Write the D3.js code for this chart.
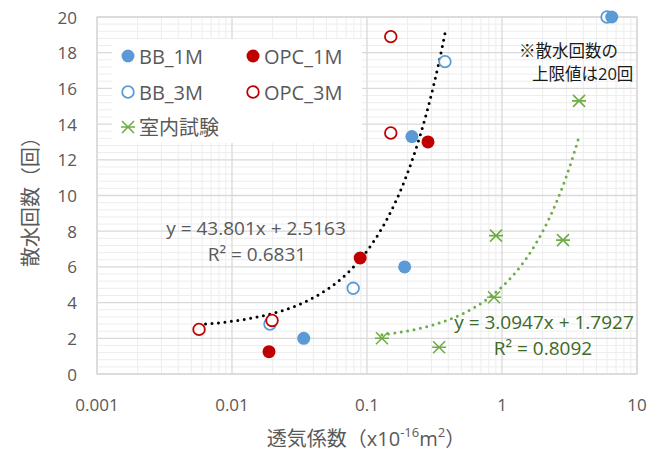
<!DOCTYPE html>
<html>
<head>
<meta charset="utf-8">
<script src="https://cdn.jsdelivr.net/npm/d3@7"></script>
<style>
  body { margin: 0; background: #fff; }
  svg { font-family: "Open Sans", "Noto Sans CJK JP", sans-serif; }
</style>
</head>
<body>
<svg id="chart" width="660" height="450"></svg>
<script>
// data
let bb1mX = [0.034, 0.19, 0.215, 6.5];
let bb1mY = [2.0, 6.0, 13.3, 20];
let bb3mX = [0.0191, 0.079, 0.378, 6.0];
let bb3mY = [2.8, 4.8, 17.5, 20];
let opc1mX = [0.0188, 0.089, 0.283];
let opc1mY = [1.25, 6.5, 13.0];
let opc3mX = [0.0057, 0.0198, 0.15, 0.15];
let opc3mY = [2.5, 3.0, 13.5, 18.9];
let labX = [0.129, 0.342, 0.873, 0.903, 2.83, 3.72];
let labY = [2.0, 1.5, 4.3, 7.75, 7.5, 15.3];

// trendlines: y = a*x + b over [from, to]
let trendAll = { a: 43.801, b: 2.5163, from: 0.0057, to: 0.378 };
let trendLab = { a: 3.0947, b: 1.7927, from: 0.129, to: 3.72 };

let xTicks = [0.001, 0.01, 0.1, 1, 10];
let yTicks = [0, 2, 4, 6, 8, 10, 12, 14, 16, 18, 20];

let blue = "#5b9bd5", red = "#c00000", green = "#70ad47";
let gray = "#595959";

let svg = d3.select("#chart");
let plotL = 97, plotR = 637, plotT = 17, plotB = 374;

let x = d3.scaleLog().domain([0.001, 10]).range([plotL, plotR]);
let y = d3.scaleLinear().domain([0, 20]).range([plotB, plotT]);

// gridlines
let minorX = [];
for (let d = 0.001; d < 9; d *= 10) {
  for (let k = 2; k <= 9; k++) minorX.push(d * k);
}
let minorY = d3.range(0, 20.01, 0.4).filter(v => Math.abs(v / 2 - Math.round(v / 2)) > 0.01);

let grid = svg.append("g");
grid.selectAll(".mx").data(minorX).enter().append("line")
  .attr("x1", d => x(d)).attr("x2", d => x(d))
  .attr("y1", plotT).attr("y2", plotB)
  .attr("stroke", "#ededed").attr("stroke-width", 1);
grid.selectAll(".my").data(minorY).enter().append("line")
  .attr("x1", plotL).attr("x2", plotR)
  .attr("y1", d => y(d)).attr("y2", d => y(d))
  .attr("stroke", "#ededed").attr("stroke-width", 1);
grid.selectAll(".gx").data(xTicks).enter().append("line")
  .attr("x1", d => x(d)).attr("x2", d => x(d))
  .attr("y1", plotT).attr("y2", plotB)
  .attr("stroke", "#d9d9d9").attr("stroke-width", 1.3);
grid.selectAll(".gy").data(yTicks).enter().append("line")
  .attr("x1", plotL).attr("x2", plotR)
  .attr("y1", d => y(d)).attr("y2", d => y(d))
  .attr("stroke", "#d9d9d9").attr("stroke-width", 1.3);
grid.append("rect")
  .attr("x", plotL).attr("y", plotT)
  .attr("width", plotR - plotL).attr("height", plotB - plotT)
  .attr("fill", "none").attr("stroke", "#d9d9d9").attr("stroke-width", 1.3);

// tick labels
svg.selectAll(".xt").data(xTicks).enter().append("text")
  .attr("x", d => x(d)).attr("y", 404)
  .attr("text-anchor", "middle").attr("dominant-baseline", "central")
  .attr("font-size", 17).attr("fill", gray)
  .text(d => d3.format("~g")(d));
svg.selectAll(".yt").data(yTicks).enter().append("text")
  .attr("x", 77).attr("y", d => y(d))
  .attr("text-anchor", "end").attr("dominant-baseline", "central")
  .attr("font-size", 17).attr("fill", gray)
  .text(d => d);

// axis titles
let xt = svg.append("text")
  .attr("x", 366).attr("y", 438)
  .attr("text-anchor", "middle").attr("dominant-baseline", "central")
  .attr("font-size", 20).attr("fill", gray);
xt.append("tspan").text("透気係数（x10");
xt.append("tspan").attr("font-size", 13).attr("dy", -6).text("-16");
xt.append("tspan").attr("dy", 6).text("m");
xt.append("tspan").attr("font-size", 13).attr("dy", -6).text("2");
xt.append("tspan").attr("dy", 6).text("）");

svg.append("text")
  .attr("transform", "translate(30,197) rotate(-90)")
  .attr("text-anchor", "middle").attr("dominant-baseline", "central")
  .attr("font-size", 20).attr("fill", gray)
  .text("散水回数（回）");

// trendlines (dotted)
function trendPath(t) {
  let pts = d3.range(0, 1.0001, 0.01).map(s => {
    let xv = Math.exp(Math.log(t.from) + s * (Math.log(t.to) - Math.log(t.from)));
    return [x(xv), y(t.a * xv + t.b)];
  });
  return d3.line()(pts);
}
svg.append("path").attr("d", trendPath(trendAll))
  .attr("fill", "none").attr("stroke", "#000")
  .attr("stroke-width", 3).attr("stroke-linecap", "round")
  .attr("stroke-dasharray", "0,6.5");
svg.append("path").attr("d", trendPath(trendLab))
  .attr("fill", "none").attr("stroke", green)
  .attr("stroke-width", 3).attr("stroke-linecap", "round")
  .attr("stroke-dasharray", "0,6.5");

// markers
function circles(xs, ys, color, filled) {
  svg.append("g").selectAll("circle").data(xs).enter().append("circle")
    .attr("cx", d => x(d)).attr("cy", (d, i) => y(ys[i]))
    .attr("r", filled ? 6.5 : 5.8)
    .attr("fill", filled ? color : "#fff")
    .attr("stroke", color).attr("stroke-width", filled ? 0 : 1.8);
}
function star(g, cx, cy) {
  let s = 6;
  g.append("path")
    .attr("d", `M${cx - s},${cy - s}L${cx + s},${cy + s}M${cx + s},${cy - s}L${cx - s},${cy + s}M${cx - s - 1},${cy}L${cx + s + 1},${cy}`)
    .attr("stroke", green).attr("stroke-width", 1.6).attr("fill", "none");
}
circles(bb3mX, bb3mY, blue, false);
circles(bb1mX, bb1mY, blue, true);
circles(opc1mX, opc1mY, red, true);
circles(opc3mX, opc3mY, red, false);
let labG = svg.append("g");
labX.forEach((d, i) => star(labG, x(d), y(labY[i])));

// trendline labels
svg.append("text").attr("x", 256).attr("y", 228)
  .attr("text-anchor", "middle").attr("dominant-baseline", "central")
  .attr("font-size", 19).attr("fill", gray).text("y = 43.801x + 2.5163");
svg.append("text").attr("x", 257).attr("y", 254)
  .attr("text-anchor", "middle").attr("dominant-baseline", "central")
  .attr("font-size", 19).attr("fill", gray).text("R² = 0.6831");
svg.append("text").attr("x", 544).attr("y", 322)
  .attr("text-anchor", "middle").attr("dominant-baseline", "central")
  .attr("font-size", 19).attr("fill", "#3d6a25").text("y = 3.0947x + 1.7927");
svg.append("text").attr("x", 543).attr("y", 348)
  .attr("text-anchor", "middle").attr("dominant-baseline", "central")
  .attr("font-size", 19).attr("fill", "#3d6a25").text("R² = 0.8092");

// note
svg.append("text").attr("x", 519).attr("y", 50)
  .attr("dominant-baseline", "central")
  .attr("font-size", 16.5).attr("fill", "#1a1a1a").text("※散水回数の");
svg.append("text").attr("x", 532).attr("y", 73)
  .attr("dominant-baseline", "central")
  .attr("font-size", 16.5).attr("fill", "#1a1a1a").text("上限値は20回");

// legend
let legend = svg.append("g");
legend.append("rect").attr("x", 112).attr("y", 39)
  .attr("width", 250).attr("height", 104).attr("fill", "#fff");
let legItems = [
  { name: "BB_1M", color: blue, type: "fill", lx: 128, ly: 56 },
  { name: "OPC_1M", color: red, type: "fill", lx: 253, ly: 56 },
  { name: "BB_3M", color: blue, type: "open", lx: 128, ly: 92 },
  { name: "OPC_3M", color: red, type: "open", lx: 253, ly: 92 },
  { name: "室内試験", color: green, type: "star", lx: 128, ly: 127 }
];
legItems.forEach(d => {
  if (d.type == "star") {
    star(legend, d.lx, d.ly);
  } else {
    legend.append("circle").attr("cx", d.lx).attr("cy", d.ly)
      .attr("r", d.type == "fill" ? 6.5 : 5.8)
      .attr("fill", d.type == "fill" ? d.color : "#fff")
      .attr("stroke", d.color).attr("stroke-width", d.type == "fill" ? 0 : 1.8);
  }
  legend.append("text").attr("x", d.lx + 11).attr("y", d.ly)
    .attr("dominant-baseline", "central")
    .attr("font-size", 20).attr("fill", gray).text(d.name);
});
</script>
</body>
</html>
